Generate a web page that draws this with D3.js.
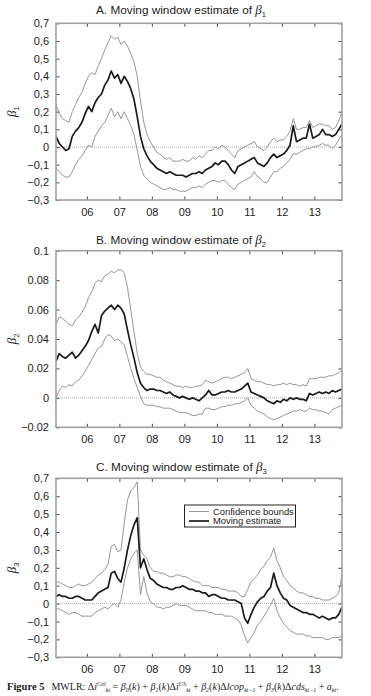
<!DOCTYPE html>
<html>
<head>
<meta charset="utf-8">
<script src="https://cdn.jsdelivr.net/npm/d3@7"></script>
<style>
  body { margin: 0; background: #fff; }
  svg { display: block; font-family: "Liberation Sans", Arial, sans-serif; }
</style>
</head>
<body>
<svg id="drawing_region"></svg>
<script>
// observation dates: one reading every 0.1 year, starting 2005.05
const years = d3.range(89).map(i => 2005.05 + i * 0.1);
const xTicks = [2006, 2007, 2008, 2009, 2010, 2011, 2012, 2013];
const xTickLabels = ['06', '07', '08', '09', '10', '11', '12', '13'];

// panel A - beta 1
const b1Ticks = [-0.3, -0.2, -0.1, 0, 0.1, 0.2, 0.3, 0.4, 0.5, 0.6, 0.7];
const b1TickLabels = ['\u22120,3', '\u22120,2', '\u22120,1', '0', '0,1', '0,2', '0,3', '0,4', '0,5', '0,6', '0,7'];
const b1Est = [
  0.06, 0.02, 0.00, -0.02, -0.01, 0.06, 0.09, 0.11, 0.14, 0.19,
  0.23, 0.20, 0.25, 0.28, 0.30, 0.35, 0.38, 0.43, 0.39, 0.41,
  0.36, 0.40, 0.37, 0.33, 0.27, 0.17, 0.06, -0.01, -0.05, -0.08,
  -0.10, -0.12, -0.13, -0.14, -0.15, -0.14, -0.15, -0.16, -0.16, -0.16,
  -0.17, -0.16, -0.15, -0.15, -0.14, -0.15, -0.13, -0.12, -0.11, -0.09,
  -0.10, -0.08, -0.08, -0.10, -0.13, -0.15, -0.11, -0.10, -0.09, -0.08,
  -0.07, -0.06, -0.09, -0.10, -0.11, -0.09, -0.06, -0.04, -0.06, -0.05,
  -0.04, -0.02, 0.01, 0.12, 0.03, 0.04, 0.05, 0.05, 0.13, 0.05,
  0.06, 0.07, 0.10, 0.07, 0.07, 0.06, 0.07, 0.10, 0.13
];
const b1Hi = [
  0.24, 0.19, 0.16, 0.15, 0.14, 0.20, 0.24, 0.28, 0.31, 0.36,
  0.40, 0.42, 0.41, 0.46, 0.50, 0.55, 0.59, 0.63, 0.61, 0.62,
  0.58, 0.60, 0.57, 0.53, 0.48, 0.40, 0.26, 0.14, 0.07, 0.03,
  0.00, -0.03, -0.04, -0.06, -0.07, -0.06, -0.08, -0.08, -0.08, -0.07,
  -0.08, -0.08, -0.06, -0.07, -0.05, -0.06, -0.04, -0.02, -0.02, 0.00,
  -0.01, 0.01, 0.00, -0.02, -0.04, -0.06, -0.02, -0.01, 0.00, 0.01,
  0.02, 0.03, 0.00, -0.01, -0.02, 0.00, 0.03, 0.05, 0.03, 0.04,
  0.04, 0.06, 0.09, 0.16, 0.10, 0.10, 0.11, 0.11, 0.15, 0.11,
  0.12, 0.13, 0.13, 0.12, 0.12, 0.10, 0.11, 0.15, 0.20
];
const b1Lo = [
  -0.12, -0.14, -0.16, -0.17, -0.17, -0.14, -0.10, -0.07, -0.05, -0.02,
  0.01, 0.00, 0.06, 0.09, 0.12, 0.14, 0.18, 0.22, 0.17, 0.20,
  0.16, 0.20, 0.16, 0.12, 0.07, -0.02, -0.11, -0.16, -0.18, -0.20,
  -0.21, -0.22, -0.23, -0.24, -0.24, -0.23, -0.24, -0.24, -0.25, -0.25,
  -0.25, -0.24, -0.23, -0.23, -0.22, -0.23, -0.21, -0.20, -0.19, -0.19,
  -0.20, -0.19, -0.19, -0.21, -0.23, -0.24, -0.21, -0.20, -0.19, -0.18,
  -0.17, -0.14, -0.17, -0.18, -0.20, -0.20, -0.17, -0.14, -0.14, -0.12,
  -0.11, -0.09, -0.07, -0.04, -0.04, -0.03, -0.02, -0.01, -0.01, 0.00,
  0.00, 0.01, 0.02, 0.01, 0.01, -0.01, 0.01, 0.04, 0.07
];

// panel B - beta 2
const b2Ticks = [-0.02, 0, 0.02, 0.04, 0.06, 0.08, 0.1];
const b2TickLabels = ['\u22120.02', '0', '0.02', '0.04', '0.06', '0.08', '0.1'];
const b2Est = [
  0.025, 0.030, 0.028, 0.027, 0.029, 0.031, 0.027, 0.029, 0.032, 0.035,
  0.039, 0.045, 0.050, 0.044, 0.056, 0.059, 0.061, 0.063, 0.060, 0.063,
  0.061, 0.057, 0.046, 0.036, 0.027, 0.017, 0.010, 0.007, 0.005, 0.006,
  0.006, 0.005, 0.005, 0.004, 0.003, 0.004, 0.002, 0.001, 0.000, 0.001,
  0.000, -0.001, 0.000, -0.001, -0.002, 0.000, 0.002, 0.005, 0.002, 0.002,
  0.003, 0.004, 0.004, 0.005, 0.004, 0.004, 0.005, 0.006, 0.008, 0.010,
  0.004, 0.003, 0.002, 0.001, 0.000, -0.002, -0.003, -0.004, -0.002, -0.003,
  -0.001, -0.002, 0.000, -0.001, 0.000, -0.001, -0.001, -0.002, 0.003, 0.002,
  0.003, 0.004, 0.003, 0.004, 0.003, 0.005, 0.004, 0.005, 0.006
];
const b2Hi = [
  0.050, 0.055, 0.054, 0.052, 0.050, 0.049, 0.053, 0.055, 0.058, 0.062,
  0.068, 0.072, 0.078, 0.080, 0.079, 0.083, 0.084, 0.086, 0.085, 0.087,
  0.087, 0.085, 0.075, 0.060, 0.045, 0.030, 0.021, 0.018, 0.016, 0.016,
  0.015, 0.014, 0.014, 0.012, 0.011, 0.010, 0.009, 0.008, 0.008, 0.007,
  0.008, 0.007, 0.007, 0.008, 0.008, 0.009, 0.012, 0.011, 0.010, 0.011,
  0.012, 0.013, 0.014, 0.014, 0.013, 0.014, 0.015, 0.016, 0.017, 0.020,
  0.013, 0.012, 0.011, 0.011, 0.010, 0.009, 0.009, 0.008, 0.009, 0.009,
  0.010, 0.009, 0.010, 0.009, 0.009, 0.008, 0.009, 0.008, 0.013, 0.013,
  0.013, 0.014, 0.014, 0.014, 0.015, 0.015, 0.016, 0.017, 0.019
];
const b2Lo = [
  0.000, 0.005, 0.008, 0.007, 0.009, 0.008, 0.011, 0.012, 0.015, 0.018,
  0.022, 0.026, 0.030, 0.034, 0.035, 0.040, 0.043, 0.042, 0.039, 0.040,
  0.038, 0.036, 0.028, 0.020, 0.013, 0.007, 0.001, -0.004, -0.005, -0.005,
  -0.005, -0.006, -0.006, -0.007, -0.007, -0.007, -0.008, -0.009, -0.010, -0.010,
  -0.010, -0.011, -0.012, -0.012, -0.011, -0.011, -0.007, -0.007, -0.008, -0.008,
  -0.007, -0.006, -0.006, -0.005, -0.005, -0.004, -0.004, -0.003, -0.002, 0.000,
  -0.005, -0.007, -0.009, -0.010, -0.011, -0.013, -0.014, -0.015, -0.014, -0.013,
  -0.012, -0.011, -0.010, -0.009, -0.009, -0.008, -0.009, -0.009, -0.007, -0.008,
  -0.008, -0.009, -0.009, -0.010, -0.011, -0.008, -0.007, -0.006, -0.005
];

// panel C - beta 3
const b3Ticks = b1Ticks;
const b3TickLabels = b1TickLabels;
const b3Est = [
  0.04, 0.05, 0.04, 0.04, 0.03, 0.03, 0.04, 0.04, 0.03, 0.02,
  0.02, 0.02, 0.04, 0.06, 0.07, 0.08, 0.09, 0.17, 0.18, 0.14,
  0.12, 0.20, 0.30, 0.38, 0.44, 0.48, 0.20, 0.25, 0.19, 0.14,
  0.13, 0.11, 0.10, 0.09, 0.09, 0.08, 0.08, 0.09, 0.09, 0.10,
  0.09, 0.08, 0.08, 0.07, 0.07, 0.06, 0.06, 0.04, 0.05, 0.05,
  0.04, 0.03, 0.03, 0.02, 0.02, 0.02, 0.01, 0.00, -0.08, -0.11,
  -0.06, -0.02, 0.01, 0.03, 0.04, 0.07, 0.09, 0.17, 0.10, 0.06,
  0.03, 0.02, -0.01, -0.02, -0.03, -0.04, -0.05, -0.05, -0.06, -0.06,
  -0.07, -0.08, -0.07, -0.08, -0.09, -0.08, -0.08, -0.06, -0.02
];
const b3Hi = [
  0.12, 0.12, 0.11, 0.10, 0.09, 0.09, 0.10, 0.11, 0.10, 0.10,
  0.11, 0.12, 0.14, 0.16, 0.17, 0.19, 0.22, 0.32, 0.33, 0.29,
  0.30, 0.45, 0.58, 0.63, 0.65, 0.68, 0.30, 0.27, 0.25, 0.20,
  0.18, 0.18, 0.17, 0.17, 0.16, 0.15, 0.15, 0.16, 0.16, 0.15,
  0.15, 0.14, 0.13, 0.12, 0.12, 0.10, 0.10, 0.10, 0.09, 0.09,
  0.09, 0.08, 0.08, 0.07, 0.07, 0.07, 0.06, 0.04, 0.04, 0.08,
  0.12, 0.14, 0.16, 0.19, 0.21, 0.24, 0.26, 0.31, 0.24, 0.20,
  0.15, 0.13, 0.10, 0.09, 0.07, 0.06, 0.06, 0.05, 0.04, 0.04,
  0.03, 0.03, 0.02, 0.02, 0.02, 0.03, 0.04, 0.06, 0.16
];
const b3Lo = [
  -0.03, -0.03, -0.04, -0.05, -0.06, -0.05, -0.05, -0.06, -0.07, -0.07,
  -0.07, -0.07, -0.05, -0.04, -0.03, -0.02, -0.03, -0.01, 0.00, -0.02,
  0.02, 0.12, 0.20, 0.25, 0.28, 0.30, 0.05, 0.15, 0.06, 0.01,
  0.00, -0.02, -0.02, -0.03, -0.02, -0.02, -0.01, 0.00, -0.01, -0.01,
  -0.01, -0.02, -0.03, -0.04, -0.04, -0.04, -0.04, -0.05, -0.05, -0.06,
  -0.06, -0.06, -0.07, -0.07, -0.07, -0.08, -0.09, -0.12, -0.18, -0.22,
  -0.19, -0.16, -0.12, -0.10, -0.07, -0.04, -0.01, 0.03, -0.04, -0.08,
  -0.11, -0.13, -0.15, -0.16, -0.17, -0.17, -0.17, -0.18, -0.18, -0.19,
  -0.19, -0.19, -0.19, -0.20, -0.20, -0.19, -0.19, -0.19, -0.18
];

const svg = d3.select('#drawing_region')
  .attr('width', 371)
  .attr('height', 696);

class MovingPanel {
  constructor(config, data) {
    this.config = config;
    this.data = data;
    this.init();
    this.render();
  }

  init() {
    let self = this;
    const c = self.config;
    self.x = d3.scaleLinear().domain([2005.05, 2013.85]).range([c.left, c.right]);
    self.y = d3.scaleLinear().domain(c.domain).range([c.bottom, c.top]);
    self.g = svg.append('g');

    self.g.append('clipPath').attr('id', 'clip' + c.id)
      .append('rect')
      .attr('x', c.left).attr('y', c.top)
      .attr('width', c.right - c.left).attr('height', c.bottom - c.top);
  }

  render() {
    let self = this;
    const c = self.config;
    const d = self.data;

    // title
    const title = self.g.append('text')
      .attr('x', c.titleX).attr('y', c.titleY)
      .attr('font-size', '11.8px').attr('fill', '#222');
    title.append('tspan').text(c.title);
    title.append('tspan').attr('font-style', 'italic').attr('font-family', '"Liberation Serif", serif').attr('font-size', '13px').text('\u03b2');
    title.append('tspan').attr('font-size', '7.5px').attr('dy', 3).text(c.sub);

    // y label
    const ylab = self.g.append('text')
      .attr('transform', `translate(16, ${(c.top + c.bottom) / 2}) rotate(-90)`)
      .attr('text-anchor', 'middle').attr('fill', '#222');
    ylab.append('tspan').attr('font-style', 'italic').attr('font-family', '"Liberation Serif", serif').attr('font-size', '13px').text('\u03b2');
    ylab.append('tspan').attr('font-size', '7.5px').attr('dy', 3).text(c.sub);

    // axes with inward ticks on all four sides
    const tickLen = 3.5;
    const yAxisL = d3.axisLeft(self.y).tickValues(c.ticks).tickSize(-tickLen).tickPadding(7)
      .tickFormat((v, i) => c.tickLabels[i]);
    const yAxisR = d3.axisRight(self.y).tickValues(c.ticks).tickSize(-tickLen).tickFormat('');
    const xAxisB = d3.axisBottom(self.x).tickValues(xTicks).tickSize(-tickLen).tickPadding(8)
      .tickFormat((v, i) => xTickLabels[i]);
    const xAxisT = d3.axisTop(self.x).tickValues(xTicks).tickSize(-tickLen).tickFormat('');

    const axes = [
      self.g.append('g').attr('transform', `translate(${c.left},0)`).call(yAxisL),
      self.g.append('g').attr('transform', `translate(${c.right},0)`).call(yAxisR),
      self.g.append('g').attr('transform', `translate(0,${c.bottom})`).call(xAxisB),
      self.g.append('g').attr('transform', `translate(0,${c.top})`).call(xAxisT)
    ];
    axes.forEach(a => {
      a.select('.domain').remove();
      a.selectAll('line').attr('stroke', '#333').attr('stroke-width', 0.9);
      a.selectAll('text').attr('font-size', '11px').attr('fill', '#222')
        .attr('font-family', '"Liberation Sans", Arial, sans-serif');
    });

    const plot = self.g.append('g').attr('clip-path', `url(#clip${c.id})`);

    // zero reference line
    plot.append('line')
      .attr('x1', c.left).attr('x2', c.right)
      .attr('y1', self.y(0)).attr('y2', self.y(0))
      .attr('stroke', '#777').attr('stroke-width', 0.6)
      .attr('stroke-dasharray', '1,1');

    const line = d3.line()
      .x((v, i) => self.x(years[i]))
      .y(v => self.y(v));

    [d.lo, d.hi].forEach(s => {
      plot.append('path').datum(s)
        .attr('d', line).attr('fill', 'none')
        .attr('stroke', '#8a8a8a').attr('stroke-width', 0.9);
    });
    plot.append('path').datum(d.est)
      .attr('d', line).attr('fill', 'none')
      .attr('stroke', '#1a1a1a').attr('stroke-width', 1.7)
      .attr('stroke-linejoin', 'round');

    // frame
    self.g.append('rect')
      .attr('x', c.left).attr('y', c.top)
      .attr('width', c.right - c.left).attr('height', c.bottom - c.top)
      .attr('fill', 'none').attr('stroke', '#a0a0a0').attr('stroke-width', 1.6);
  }
}

new MovingPanel({
  id: 'A', left: 56, right: 342, top: 23.3, bottom: 200,
  domain: [-0.3, 0.7], ticks: b1Ticks, tickLabels: b1TickLabels,
  title: 'A. Moving window estimate of ', sub: '1', titleX: 96, titleY: 14
}, { est: b1Est, hi: b1Hi, lo: b1Lo });

new MovingPanel({
  id: 'B', left: 56, right: 342, top: 250.7, bottom: 427.3,
  domain: [-0.02, 0.1], ticks: b2Ticks, tickLabels: b2TickLabels,
  title: 'B. Moving window estimate of ', sub: '2', titleX: 96, titleY: 244
}, { est: b2Est, hi: b2Hi, lo: b2Lo });

new MovingPanel({
  id: 'C', left: 56, right: 342, top: 478.3, bottom: 657.3,
  domain: [-0.3, 0.7], ticks: b3Ticks, tickLabels: b3TickLabels,
  title: 'C. Moving window estimate of ', sub: '3', titleX: 96, titleY: 471
}, { est: b3Est, hi: b3Hi, lo: b3Lo });

// legend in panel C
const legend = svg.append('g');
legend.append('rect')
  .attr('x', 184.5).attr('y', 505).attr('width', 111).attr('height', 22)
  .attr('fill', '#fff').attr('stroke', '#222').attr('stroke-width', 1);
const legendItems = [
  { label: 'Confidence bounds', color: '#8a8a8a', width: 0.9 },
  { label: 'Moving estimate', color: '#1a1a1a', width: 1.7 }
];
legendItems.forEach((it, i) => {
  legend.append('line')
    .attr('x1', 189).attr('x2', 209)
    .attr('y1', 511.5 + i * 9.5).attr('y2', 511.5 + i * 9.5)
    .attr('stroke', it.color).attr('stroke-width', it.width);
  legend.append('text')
    .attr('x', 213).attr('y', 514.5 + i * 9.5)
    .attr('font-size', '9.4px').attr('fill', '#222')
    .text(it.label);
});

// caption
const cap = svg.append('text')
  .attr('x', 7).attr('y', 690)
  .attr('font-family', '"Liberation Serif", "Times New Roman", serif')
  .attr('font-size', '10px').attr('fill', '#222');
cap.append('tspan').attr('font-weight', 'bold').attr('font-size', '10.5px').text('Figure 5');
cap.append('tspan').attr('dx', 7).text('MWLR: \u0394');
const it = (t) => cap.append('tspan').attr('font-style', 'italic').text(t);
const sub = (t, dy) => cap.append('tspan').attr('font-style', 'italic').attr('font-size', '6px').attr('dy', dy).text(t);
const norm = (t, dy) => cap.append('tspan').attr('dy', dy || 0).text(t);
it('i'); sub('Col', -4); sub('kt', 6);
norm(' = ', -2);
it('\u03b2'); sub('0', 2); norm('(', -2); it('k'); norm(') + ');
it('\u03b2'); sub('1', 2); norm('(', -2); it('k'); norm(')\u0394');
it('i'); sub('US', -4); sub('kt', 6);
norm(' + ', -2);
it('\u03b2'); sub('2', 2); norm('(', -2); it('k'); norm(')\u0394');
it('lcop'); sub('kt\u22121', 2); norm(' + ', -2);
it('\u03b2'); sub('3', 2); norm('(', -2); it('k'); norm(')\u0394');
it('cds'); sub('kt\u22121', 2); norm(' + ', -2);
it('a'); sub('kt', 2); norm('.', -2);
</script>
</body>
</html>
